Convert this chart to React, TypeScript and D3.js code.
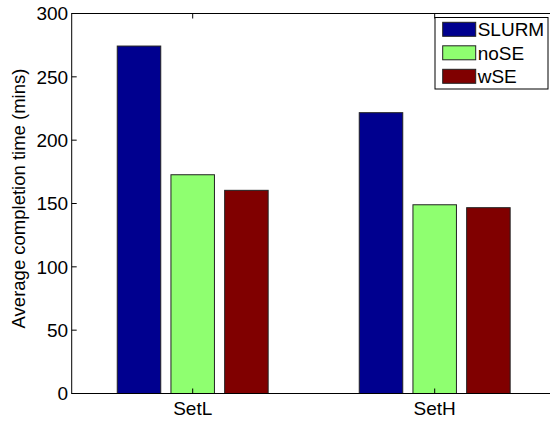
import React, { useRef, useEffect } from "react";
import * as d3 from "d3";

const groups = ["SetL", "SetH"];
const seriesNames = ["SLURM", "noSE", "wSE"];
const slurm = [274.3, 221.7];
const noSE = [172.7, 149];
const wSE = [160.4, 146.7];
const yTicks = [0, 50, 100, 150, 200, 250, 300];
const colors = ["#00008f", "#8fff70", "#800000"];

const W = 550;
const H = 423;

const App: React.FC = () => {
  const ref = useRef<SVGSVGElement | null>(null);

  useEffect(() => {
    const svg = d3.select(ref.current);
    svg.selectAll("*").remove();

    const font = "'Liberation Sans', Arial, Helvetica, sans-serif";
    const left = 71.7;
    const top = 13.5;
    const bottom = 393.5;
    const right = 555.7; // axes run past the picture edge

    const values = [slurm, noSE, wSE];

    const x = d3.scaleBand<string>().domain(groups).range([left, right]);
    const inner = d3
      .scaleBand<string>()
      .domain(seriesNames)
      .range([-75.45, 75.45])
      .paddingInner(0.19);

    const y = d3.scaleLinear().domain([0, 300]).range([bottom, top]);

    // bars
    groups.forEach((g, gi) => {
      const cx = (x(g) as number) + x.bandwidth() / 2;
      seriesNames.forEach((s, si) => {
        const v = values[si][gi];
        svg
          .append("rect")
          .attr("x", cx + (inner(s) as number))
          .attr("y", y(v))
          .attr("width", inner.bandwidth())
          .attr("height", y(0) - y(v))
          .attr("fill", colors[si])
          .attr("stroke", "#222")
          .attr("stroke-width", 1);
      });
    });

    // axes box
    svg
      .append("rect")
      .attr("x", left)
      .attr("y", top)
      .attr("width", right - left)
      .attr("height", bottom - top)
      .attr("fill", "none")
      .attr("stroke", "#000")
      .attr("stroke-width", 1);

    // y ticks (inward) + labels
    yTicks.forEach((t) => {
      svg
        .append("line")
        .attr("x1", left)
        .attr("x2", left + 5)
        .attr("y1", y(t))
        .attr("y2", y(t))
        .attr("stroke", "#000");
      svg
        .append("line")
        .attr("x1", right)
        .attr("x2", right - 5)
        .attr("y1", y(t))
        .attr("y2", y(t))
        .attr("stroke", "#000");
      svg
        .append("text")
        .attr("x", left - 3.5)
        .attr("y", y(t))
        .attr("dy", "0.36em")
        .attr("text-anchor", "end")
        .style("font-family", font)
        .style("font-size", "19px")
        .text(String(t));
    });

    // x ticks + labels
    groups.forEach((g) => {
      const cx = (x(g) as number) + x.bandwidth() / 2;
      svg
        .append("line")
        .attr("x1", cx)
        .attr("x2", cx)
        .attr("y1", top)
        .attr("y2", top + 5)
        .attr("stroke", "#000");
      svg
        .append("line")
        .attr("x1", cx)
        .attr("x2", cx)
        .attr("y1", bottom)
        .attr("y2", bottom - 5)
        .attr("stroke", "#000");
      svg
        .append("text")
        .attr("x", cx)
        .attr("y", 415)
        .attr("text-anchor", "middle")
        .style("font-family", font)
        .style("font-size", "19px")
        .text(g);
    });

    // y label
    svg
      .append("text")
      .attr("transform", `translate(24.5,${(top + bottom) / 2 - 5}) rotate(-90)`)
      .attr("text-anchor", "middle")
      .style("font-family", font)
      .style("font-size", "18.5px")
      .text("Average completion time (mins)");

    // legend
    const legend = svg.append("g");
    legend
      .append("rect")
      .attr("x", 435)
      .attr("y", 17.5)
      .attr("width", 113)
      .attr("height", 71.5)
      .attr("fill", "#fff")
      .attr("stroke", "#000");
    seriesNames.forEach((s, i) => {
      const cy = 29.3 + i * 23.5;
      legend
        .append("rect")
        .attr("x", 442.7)
        .attr("y", cy - 7)
        .attr("width", 33)
        .attr("height", 14)
        .attr("fill", colors[i])
        .attr("stroke", "#222");
      legend
        .append("text")
        .attr("x", 477.7)
        .attr("y", cy)
        .attr("dy", "0.36em")
        .style("font-family", font)
        .style("font-size", "19px")
        .text(s);
    });
  }, []);

  return (
    <svg
      ref={ref}
      width={W}
      height={H}
      style={{ position: "fixed", left: 0, top: 0, background: "#fff" }}
    />
  );
};

export default App;
